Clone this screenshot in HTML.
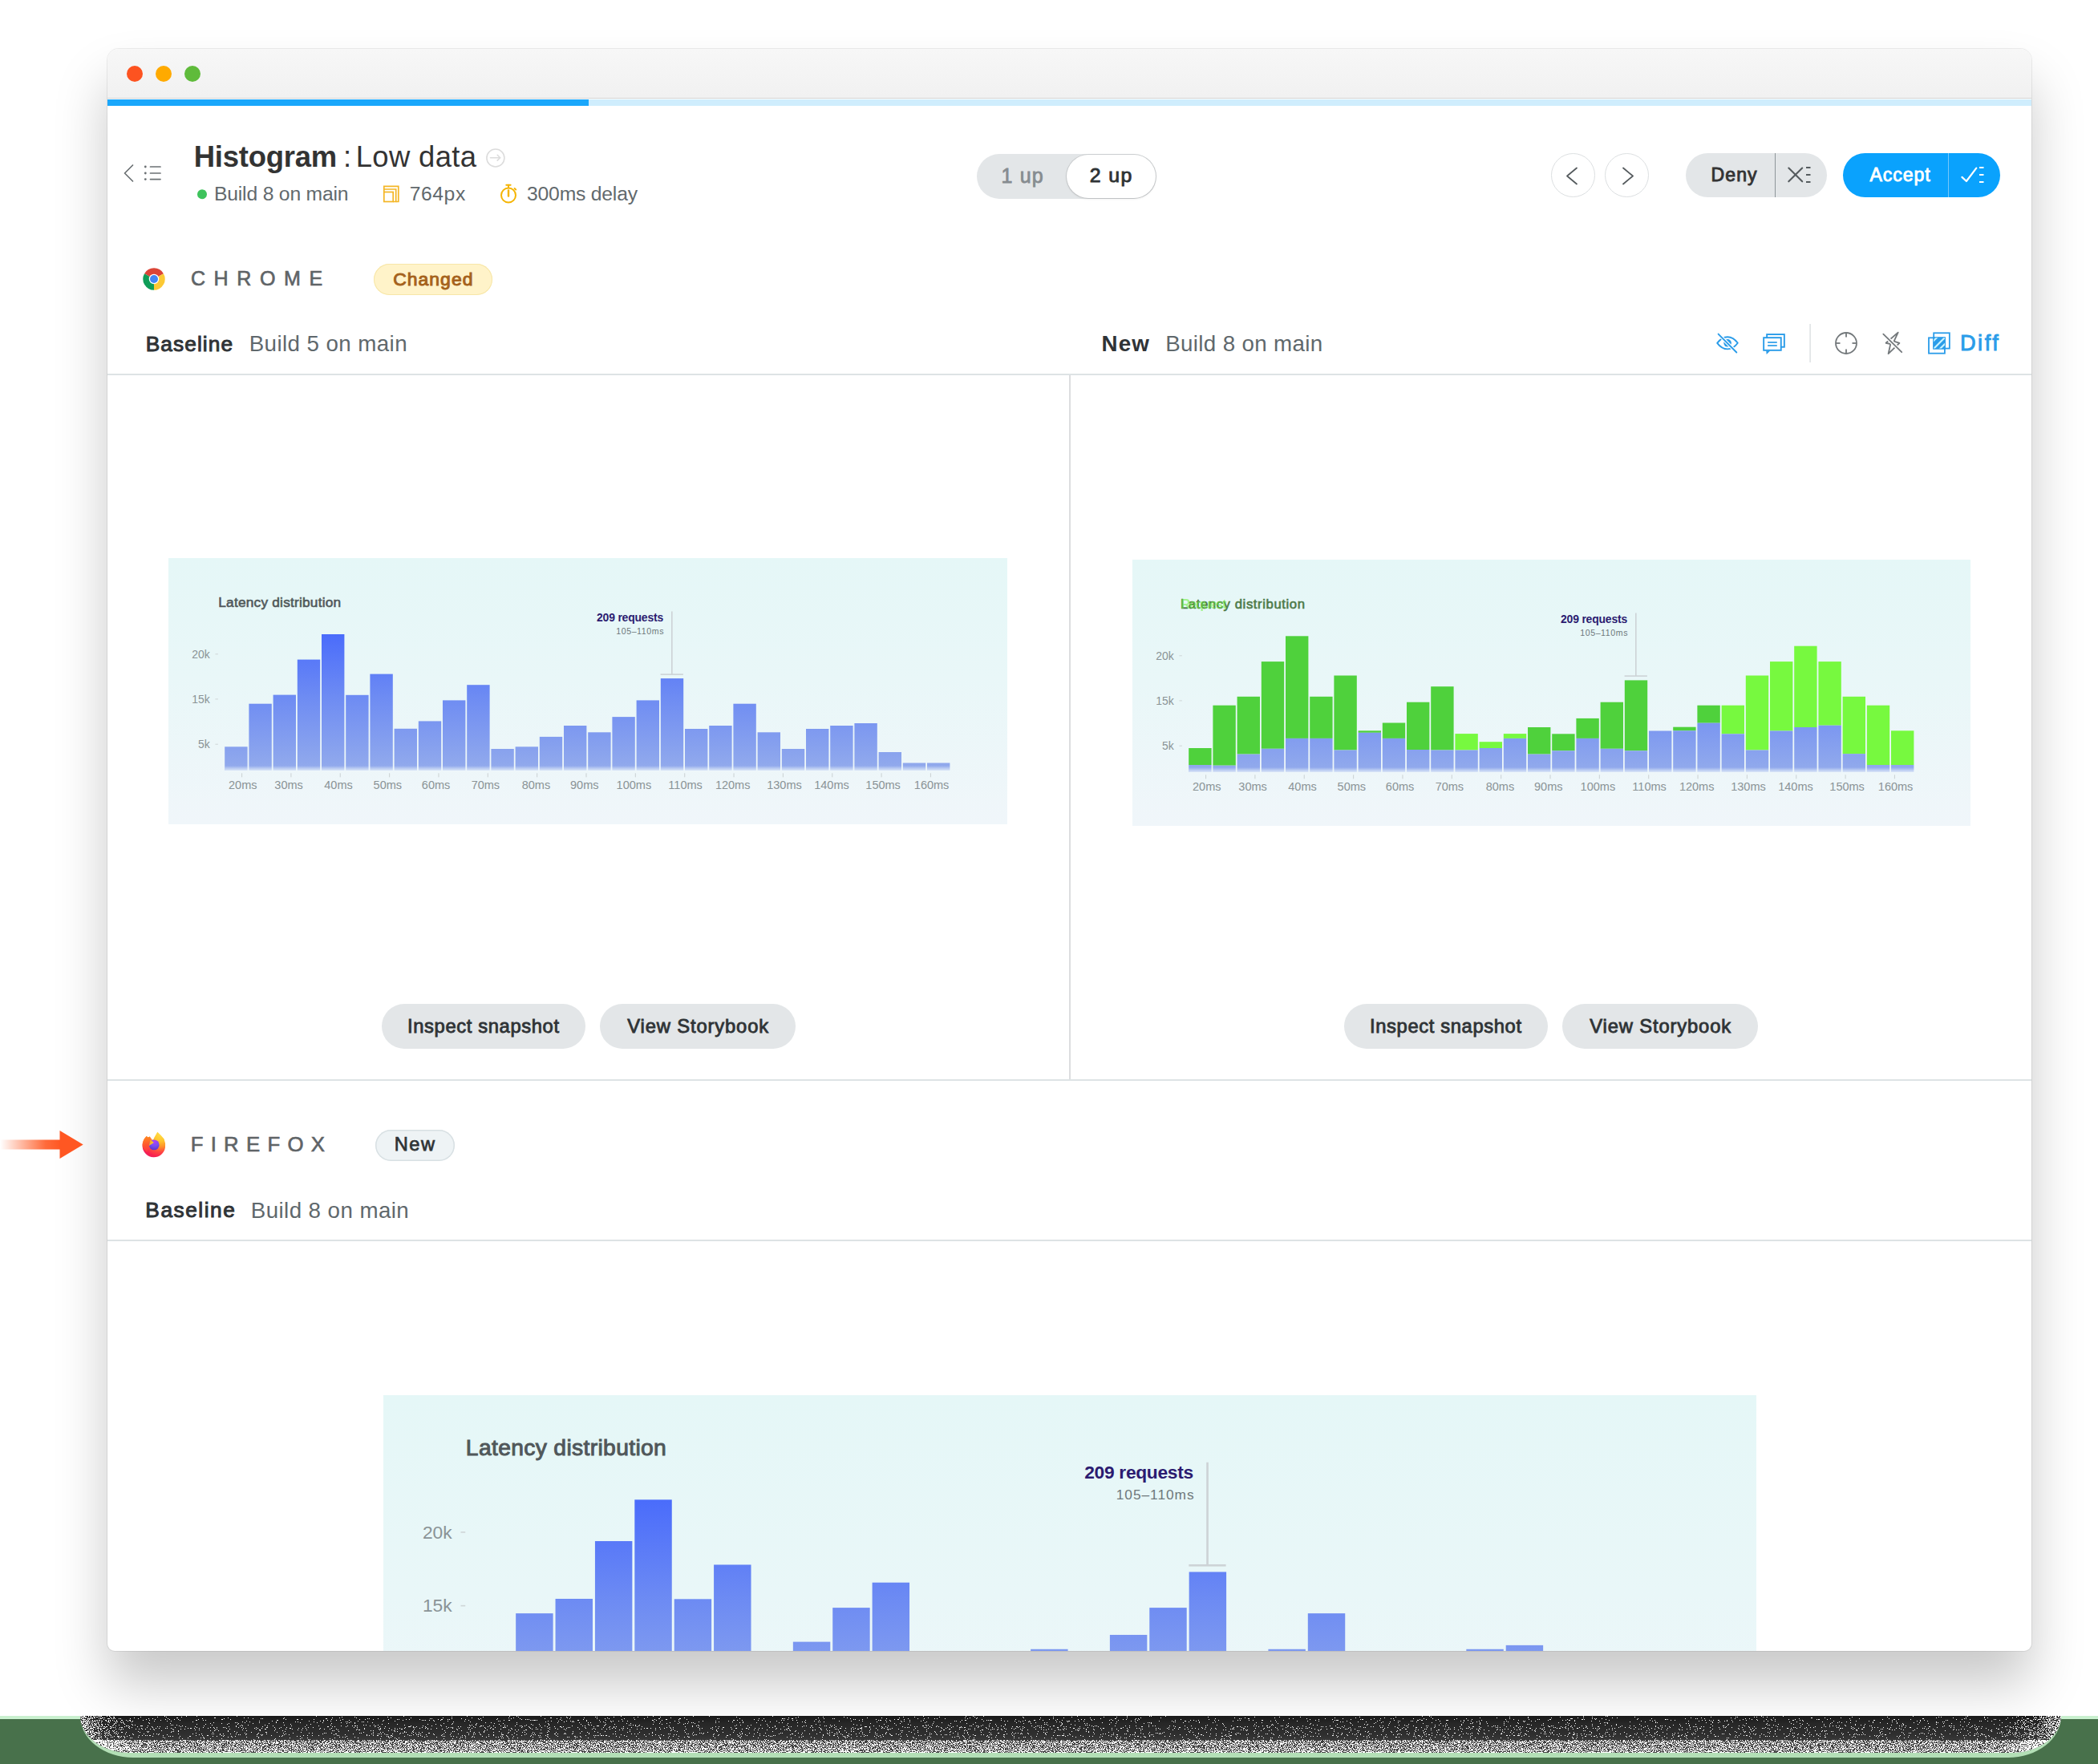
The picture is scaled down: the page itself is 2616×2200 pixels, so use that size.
<!DOCTYPE html>
<html><head><meta charset="utf-8"><title>Histogram : Low data</title>
<style>
*{margin:0;padding:0;box-sizing:border-box}
html,body{width:2616px;height:2200px;overflow:hidden;background:#fff;font-family:"Liberation Sans",sans-serif}
.a{position:absolute}
.t{position:absolute;white-space:nowrap;font-family:"Liberation Sans",sans-serif}
#win{position:absolute;left:134px;top:61px;width:2399px;height:1998px;border-radius:14px 14px 9px 9px;background:#fff;
 box-shadow:0 0 0 1px rgba(0,0,0,.07),0 42px 66px rgba(0,0,0,.217)}
#tb{position:absolute;left:134px;top:61px;width:2399px;height:62px;border-radius:14px 14px 0 0;
 background:linear-gradient(#f7f7f7,#f1f1f1);border-bottom:1px solid #d4d4d4}
.dot{position:absolute;width:20px;height:20px;border-radius:50%;top:82px}
.pill{position:absolute;border-radius:40px}
svg{position:absolute;overflow:visible}
svg text{font-family:"Liberation Sans",sans-serif}
</style></head><body>
<!-- bottom strip -->
<div class="a" style="left:0;top:2140px;width:2616px;height:60px;background:#48714b"></div>
<div class="a" style="left:0;top:2140px;width:2616px;height:4px;background:#c9f0cf"></div>
<div class="a" style="left:100px;top:2140px;width:2470px;height:52px;border-radius:0 0 66px 66px / 0 0 52px 52px;background:#b3dfb6"></div>
<svg style="left:100px;top:2140px" width="2470" height="46" viewBox="0 0 2470 46">
 <defs>
  <clipPath id="bandclip"><path d="M0 0 H2470 A62 46 0 0 1 2408 46 H62 A62 46 0 0 1 0 0 Z"/></clipPath>
  <linearGradient id="bandc" x1="0" y1="0" x2="0" y2="1">
   <stop offset="0" stop-color="#1a1a1a"/><stop offset="0.2" stop-color="#282828"/><stop offset="0.5" stop-color="#303030"/>
   <stop offset="0.66" stop-color="#383838"/><stop offset="0.67" stop-color="#3e3e3e"/><stop offset="1" stop-color="#444"/>
  </linearGradient>
  <linearGradient id="bandp" gradientUnits="userSpaceOnUse" x1="0" y1="0" x2="0" y2="46">
   <stop offset="0" stop-color="#000"/><stop offset="0.05" stop-color="#050505"/><stop offset="0.18" stop-color="#0d0d0d"/>
   <stop offset="0.44" stop-color="#111"/><stop offset="0.57" stop-color="#0d0d0d"/><stop offset="0.655" stop-color="#0a0a0a"/>
   <stop offset="0.665" stop-color="#3c3c3c"/><stop offset="0.95" stop-color="#404040"/><stop offset="1" stop-color="#4a4a4a"/>
  </linearGradient>
  <linearGradient id="bandh" gradientUnits="userSpaceOnUse" x1="0" y1="0" x2="2470" y2="0">
   <stop offset="0" stop-color="#fff" stop-opacity="0.26"/><stop offset="0.012" stop-color="#fff" stop-opacity="0.12"/>
   <stop offset="0.03" stop-color="#fff" stop-opacity="0"/><stop offset="0.97" stop-color="#fff" stop-opacity="0"/>
   <stop offset="0.988" stop-color="#fff" stop-opacity="0.12"/><stop offset="1" stop-color="#fff" stop-opacity="0.26"/>
  </linearGradient>
  <filter id="dith" x="0" y="0" width="100%" height="100%" color-interpolation-filters="sRGB">
   <feTurbulence type="fractalNoise" baseFrequency="0.9" numOctaves="3" seed="7" result="n"/>
   <feColorMatrix in="n" type="matrix" values="1 0 0 0 0  1 0 0 0 0  1 0 0 0 0  0 0 0 0 1" result="nr"/>
   <feComposite in="nr" in2="SourceGraphic" operator="arithmetic" k1="0" k2="-1" k3="1" k4="0.5" result="d"/>
   <feColorMatrix in="d" type="matrix" values="0 0 0 0 1  0 0 0 0 1  0 0 0 0 1  1 0 0 0 0" result="m"/>
   <feComponentTransfer in="m"><feFuncA type="discrete" tableValues="0 1"/></feComponentTransfer>
  </filter>
 </defs>
 <g clip-path="url(#bandclip)">
  <rect x="0" y="0" width="2470" height="46" fill="url(#bandc)"/>
  <g filter="url(#dith)">
   <rect x="0" y="0" width="2470" height="46" fill="url(#bandp)"/>
   <rect x="0" y="0" width="2470" height="46" fill="url(#bandh)"/>
  </g>
 </g>
</svg>
<div class="a" style="left:100px;top:2139px;width:2470px;height:1px;background:#fff"></div>
<!-- window -->
<div id="win"></div>
<div id="tb"></div>
<div class="dot" style="left:158px;background:#fd5320"></div>
<div class="dot" style="left:194px;background:#ffaa00"></div>
<div class="dot" style="left:230px;background:#5fbb3b"></div>
<div class="a" style="left:134px;top:124px;width:600px;height:8px;background:#1aa7fb"></div>
<div class="a" style="left:734px;top:124px;width:1799px;height:8px;background:#cfedfd"></div>

<!-- header icons -->
<svg style="left:0;top:0" width="2616" height="500" viewBox="0 0 2616 500">
 <!-- back + list -->
 <polyline points="165.5,206 155.5,216 165.5,226" fill="none" stroke="#6b7073" stroke-width="1.7" stroke-linecap="round" stroke-linejoin="round"/>
 <g fill="#6b7073"><circle cx="181.3" cy="208" r="1.4"/><circle cx="181.3" cy="216" r="1.4"/><circle cx="181.3" cy="223.6" r="1.4"/></g>
 <g stroke="#6b7073" stroke-width="1.7" stroke-linecap="round"><line x1="187.5" y1="208" x2="200" y2="208"/><line x1="187.5" y1="216" x2="200" y2="216"/><line x1="187.5" y1="223.6" x2="200" y2="223.6"/></g>
 <!-- circle arrow after title -->
 <circle cx="617.9" cy="197" r="11" fill="none" stroke="#dcdcdc" stroke-width="1.6"/>
 <g stroke="#dcdcdc" stroke-width="1.6" fill="none" stroke-linecap="round" stroke-linejoin="round"><line x1="611.5" y1="196.7" x2="623.6" y2="196.7"/><polyline points="620.2,193.3 623.6,196.7 620.2,200.1"/></g>
 <!-- green dot -->
 <circle cx="252" cy="242.3" r="6" fill="#3ec35c"/>
 <!-- frames icon -->
 <g fill="none" stroke="#f4b626" stroke-width="1.7">
  <rect x="478.8" y="239.5" width="11.4" height="12"/>
  <polyline points="478.8,239.5 478.8,236 493.7,236 493.7,251.5 490.2,251.5"/>
  <polyline points="478.8,236 478.8,232.3 496.8,232.3 496.8,251.5 493.7,251.5"/>
 </g>
 <!-- timer icon -->
 <g fill="none" stroke="#f5b400" stroke-width="2" stroke-linecap="round">
  <circle cx="634" cy="243.5" r="9"/>
  <line x1="634" y1="244.5" x2="634" y2="237.5" stroke-width="2.4"/>
  <line x1="631.3" y1="230.8" x2="636.6" y2="230.8"/>
  <line x1="634" y1="230.8" x2="634" y2="234"/>
  <line x1="641.6" y1="235" x2="643.2" y2="236.5"/>
 </g>
</svg>

<!-- toggle 1up/2up -->
<div class="pill" style="left:1218px;top:192px;width:224px;height:56px;border-radius:28px;background:#e3e6e8"></div>
<div class="pill" style="left:1330px;top:193px;width:111px;height:54px;border-radius:27px;background:#fff;box-shadow:0 0 0 1px rgba(0,0,0,.09),0 1px 3px rgba(0,0,0,.10)"></div>

<!-- prev/next -->
<div class="pill" style="left:1934px;top:190.5px;width:55px;height:55px;border-radius:50%;border:1.5px solid #dcdfe1"></div>
<div class="pill" style="left:2001px;top:190.5px;width:55px;height:55px;border-radius:50%;border:1.5px solid #dcdfe1"></div>
<!-- deny / accept -->
<div class="pill" style="left:2102px;top:190.5px;width:176px;height:55px;border-radius:28px;background:#e3e6e8"></div>
<div class="a" style="left:2212.5px;top:190.5px;width:1.5px;height:55px;background:#8f9699"></div>
<div class="pill" style="left:2298px;top:190.5px;width:196px;height:55px;border-radius:28px;background:#0aa2fd"></div>
<div class="a" style="left:2428.5px;top:190.5px;width:1.5px;height:55px;background:#74c8fb"></div>
<svg style="left:0;top:0" width="2616" height="500" viewBox="0 0 2616 500">
 <g fill="none" stroke="#555b5e" stroke-width="1.8" stroke-linecap="round" stroke-linejoin="round">
  <polyline points="1966,209.5 1954,219.5 1966,229.5"/>
  <polyline points="2024,209.5 2036,219.5 2024,229.5"/>
 </g>
 <g fill="none" stroke="#555b5e" stroke-width="1.8" stroke-linecap="round">
  <line x1="2230.3" y1="209.5" x2="2247.2" y2="226.3" stroke-width="2.1"/><line x1="2247.2" y1="209.5" x2="2230.3" y2="226.3" stroke-width="2.1"/>
 </g>
 <g fill="#555b5e"><rect x="2252" y="208" width="5.5" height="2"/><rect x="2252" y="217" width="5.5" height="2"/><rect x="2252" y="226" width="5.5" height="2"/></g>
 <g fill="none" stroke="#fff" stroke-width="1.8" stroke-linecap="round" stroke-linejoin="round"><polyline points="2446.4,220.9 2451.9,226 2464.3,209.6" stroke-width="2.2"/></g>
 <g fill="#fff"><rect x="2468" y="208" width="5.5" height="2"/><rect x="2468" y="217" width="5.5" height="2"/><rect x="2468" y="226" width="5.5" height="2"/></g>
</svg>

<!-- chrome icon -->
<svg style="left:177px;top:333px" width="30" height="30" viewBox="0 0 48 48">
 <path d="M24 24 L4.95 13 A22 22 0 0 1 43.05 13 Z" fill="#db4437"/>
 <path d="M24 24 L43.05 13 A22 22 0 0 1 24 46 Z" fill="#fcc934"/>
 <path d="M24 24 L24 46 A22 22 0 0 1 4.95 13 Z" fill="#0f9d58"/>
 <circle cx="24" cy="24" r="10" fill="#fff"/>
 <circle cx="24" cy="24" r="8" fill="#4285f4"/>
</svg>
<!-- Changed pill -->
<div class="pill" style="left:466px;top:328.5px;width:148px;height:39px;border-radius:20px;background:#fff3c9;box-shadow:inset 0 0 0 1px #f7e6a8"></div>

<!-- toolbar icons -->
<svg style="left:0;top:0" width="2616" height="500" viewBox="0 0 2616 500">
 <!-- eye slash -->
 <path d="M2141.2 427.8 Q2147 420.2 2154.1 420.2 Q2161.2 420.2 2166.8 427.8 Q2161.2 435.4 2154.1 435.4 Q2147 435.4 2141.2 427.8 Z" fill="none" stroke="#2a9ce9" stroke-width="1.9" stroke-linejoin="round"/>
 <circle cx="2154.1" cy="427.8" r="4.8" fill="#2a9ce9"/>
 <line x1="2142.6" y1="416.6" x2="2165.3" y2="439.5" stroke="#fff" stroke-width="4.2"/>
 <line x1="2142.6" y1="416.6" x2="2165.3" y2="439.5" stroke="#2a9ce9" stroke-width="1.9" stroke-linecap="round"/>
 <!-- comments -->
 <g fill="none" stroke="#2a9ce9" stroke-width="1.9">
  <rect x="2203.15" y="417.05" width="21.7" height="15.7"/>
  <rect x="2199.15" y="421.15" width="21.6" height="15.7" fill="#fff"/>
 </g>
 <path d="M2202.2 437.6 L2202.7 442 L2207.2 437.6 Z" fill="#2a9ce9"/>
 <g stroke="#2a9ce9" stroke-width="1.7"><line x1="2204.1" y1="427" x2="2215.8" y2="427"/><line x1="2204.1" y1="431" x2="2215.8" y2="431"/></g>
 <rect x="2256.3" y="404" width="1.6" height="48" fill="#dfe3e5"/>
 <!-- crosshair -->
 <g fill="none" stroke="#73787b" stroke-width="1.8">
  <circle cx="2302" cy="428" r="13"/>
  <line x1="2302" y1="415" x2="2302" y2="420.5"/><line x1="2302" y1="435.5" x2="2302" y2="441"/>
  <line x1="2289" y1="428" x2="2294.5" y2="428"/><line x1="2309.5" y1="428" x2="2315" y2="428"/>
 </g>
 <!-- lightning off -->
 <path d="M2366.7 414.6 L2351.6 427.8 L2357.3 429 L2354.6 441.2 L2368.4 427.8 L2361.6 425.6 Z" fill="none" stroke="#73787b" stroke-width="1.8" stroke-linejoin="round"/>
 <line x1="2348.3" y1="416.6" x2="2371.2" y2="439.2" stroke="#fff" stroke-width="4.5"/>
 <line x1="2348.3" y1="416.6" x2="2371.2" y2="439.2" stroke="#73787b" stroke-width="1.8" stroke-linecap="round"/>
 <!-- diff icon -->
 <defs><clipPath id="ovl"><rect x="2411.2" y="421.3" width="13.7" height="13.3"/></clipPath></defs>
 <g fill="none" stroke="#2a9ce9" stroke-width="1.8">
  <rect x="2411.2" y="415.3" width="19.65" height="19.3"/>
  <rect x="2405" y="421.3" width="19.9" height="19.4"/>
 </g>
 <rect x="2410.3" y="420.4" width="15.5" height="15.1" fill="#2a9ce9"/>
 <g clip-path="url(#ovl)" stroke="#c9f3ff" stroke-width="2.2">
  <line x1="2406" y1="430" x2="2418" y2="418"/>
  <line x1="2408" y1="438" x2="2428" y2="418"/>
  <line x1="2414" y1="440" x2="2430" y2="424"/>
 </g>
</svg>

<!-- separators -->
<div class="a" style="left:134px;top:466px;width:2399px;height:2px;background:#dde3e5"></div>
<div class="a" style="left:1333px;top:468px;width:1.6px;height:879px;background:#dcdddf"></div>
<div class="a" style="left:134px;top:1346px;width:2399px;height:2px;background:#dde3e5"></div>
<div class="a" style="left:134px;top:1546px;width:2399px;height:2px;background:#dde3e5"></div>

<!-- chart boxes -->
<div class="a" style="left:210px;top:696px;width:1046px;height:332px;background:linear-gradient(180deg,#e5f7f7 0%,#e9f7f8 45%,#f0f6fa 100%)"></div>
<div class="a" style="left:1412px;top:698px;width:1045px;height:332px;background:linear-gradient(180deg,#e5f7f7 0%,#e9f7f8 45%,#f0f6fa 100%)"></div>
<svg style="left:210px;top:696px" width="1047" height="340" viewBox="0 0 1047 340"><defs><linearGradient id="bgbase" gradientUnits="userSpaceOnUse" x1="0" y1="95.0" x2="0" y2="265.0"><stop offset="0" stop-color="#4a6cfb"/><stop offset="0.45" stop-color="#6d8bf3"/><stop offset="1" stop-color="#93abec"/></linearGradient><linearGradient id="fadebase" x1="0" y1="0" x2="0" y2="1"><stop offset="0" stop-color="#eef7fa" stop-opacity="0"/><stop offset="1" stop-color="#eef7fa" stop-opacity="0.9"/></linearGradient></defs>
<text x="62.28" y="61.00" font-size="17.28" font-weight="400" fill="#50575a" stroke="#50575a" stroke-width="0.6" textLength="152.85" lengthAdjust="spacing">Latency distribution</text>
<text x="29.31" y="124.60" font-size="13.94" font-weight="400" fill="#8a9396">20k</text>
<rect x="58.4" y="119.3" width="3.5" height="1" fill="#cfd6d8"/>
<text x="29.31" y="180.70" font-size="13.94" font-weight="400" fill="#8a9396">15k</text>
<rect x="58.4" y="175.4" width="3.5" height="1" fill="#cfd6d8"/>
<text x="37.06" y="237.00" font-size="13.94" font-weight="400" fill="#8a9396">5k</text>
<rect x="58.4" y="231.7" width="3.5" height="1" fill="#cfd6d8"/>
<rect x="70.20" y="235.30" width="28.4" height="29.70" fill="url(#bgbase)"/>
<rect x="100.40" y="181.70" width="28.4" height="83.30" fill="url(#bgbase)"/>
<rect x="130.60" y="170.60" width="28.4" height="94.40" fill="url(#bgbase)"/>
<rect x="160.80" y="126.60" width="28.4" height="138.40" fill="url(#bgbase)"/>
<rect x="191.00" y="95.00" width="28.4" height="170.00" fill="url(#bgbase)"/>
<rect x="221.20" y="170.80" width="28.4" height="94.20" fill="url(#bgbase)"/>
<rect x="251.40" y="144.60" width="28.4" height="120.40" fill="url(#bgbase)"/>
<rect x="281.60" y="212.80" width="28.4" height="52.20" fill="url(#bgbase)"/>
<rect x="311.80" y="203.40" width="28.4" height="61.60" fill="url(#bgbase)"/>
<rect x="342.00" y="177.40" width="28.4" height="87.60" fill="url(#bgbase)"/>
<rect x="372.20" y="158.20" width="28.4" height="106.80" fill="url(#bgbase)"/>
<rect x="402.40" y="238.00" width="28.4" height="27.00" fill="url(#bgbase)"/>
<rect x="432.60" y="235.30" width="28.4" height="29.70" fill="url(#bgbase)"/>
<rect x="462.80" y="222.90" width="28.4" height="42.10" fill="url(#bgbase)"/>
<rect x="493.00" y="209.00" width="28.4" height="56.00" fill="url(#bgbase)"/>
<rect x="523.20" y="217.30" width="28.4" height="47.70" fill="url(#bgbase)"/>
<rect x="553.40" y="198.10" width="28.4" height="66.90" fill="url(#bgbase)"/>
<rect x="583.60" y="177.40" width="28.4" height="87.60" fill="url(#bgbase)"/>
<rect x="613.80" y="150.10" width="28.4" height="114.90" fill="url(#bgbase)"/>
<rect x="644.00" y="213.00" width="28.4" height="52.00" fill="url(#bgbase)"/>
<rect x="674.20" y="209.00" width="28.4" height="56.00" fill="url(#bgbase)"/>
<rect x="704.40" y="181.70" width="28.4" height="83.30" fill="url(#bgbase)"/>
<rect x="734.60" y="217.30" width="28.4" height="47.70" fill="url(#bgbase)"/>
<rect x="764.80" y="238.00" width="28.4" height="27.00" fill="url(#bgbase)"/>
<rect x="795.00" y="213.00" width="28.4" height="52.00" fill="url(#bgbase)"/>
<rect x="825.20" y="209.00" width="28.4" height="56.00" fill="url(#bgbase)"/>
<rect x="855.40" y="206.00" width="28.4" height="59.00" fill="url(#bgbase)"/>
<rect x="885.60" y="242.00" width="28.4" height="23.00" fill="url(#bgbase)"/>
<rect x="915.80" y="255.50" width="28.4" height="9.50" fill="url(#bgbase)"/>
<rect x="946.00" y="255.50" width="28.4" height="9.50" fill="url(#bgbase)"/>
<rect x="70.2" y="259.0" width="906.0" height="7" fill="url(#fadebase)"/>
<rect x="91.00" y="268.3" width="1.1" height="5" fill="#cdd4d6"/>
<text x="75.04" y="287.80" font-size="14.52" font-weight="400" fill="#8a9396">20ms</text>
<rect x="152.35" y="268.3" width="1.1" height="5" fill="#cdd4d6"/>
<text x="132.33" y="287.80" font-size="14.52" font-weight="400" fill="#8a9396">30ms</text>
<rect x="213.70" y="268.3" width="1.1" height="5" fill="#cdd4d6"/>
<text x="194.24" y="287.80" font-size="14.52" font-weight="400" fill="#8a9396">40ms</text>
<rect x="275.05" y="268.3" width="1.1" height="5" fill="#cdd4d6"/>
<text x="255.61" y="287.80" font-size="14.52" font-weight="400" fill="#8a9396">50ms</text>
<rect x="336.40" y="268.3" width="1.1" height="5" fill="#cdd4d6"/>
<text x="315.84" y="287.80" font-size="14.52" font-weight="400" fill="#8a9396">60ms</text>
<rect x="397.75" y="268.3" width="1.1" height="5" fill="#cdd4d6"/>
<text x="377.64" y="287.80" font-size="14.52" font-weight="400" fill="#8a9396">70ms</text>
<rect x="459.10" y="268.3" width="1.1" height="5" fill="#cdd4d6"/>
<text x="440.69" y="287.80" font-size="14.52" font-weight="400" fill="#8a9396">80ms</text>
<rect x="520.45" y="268.3" width="1.1" height="5" fill="#cdd4d6"/>
<text x="501.06" y="287.80" font-size="14.52" font-weight="400" fill="#8a9396">90ms</text>
<rect x="581.80" y="268.3" width="1.1" height="5" fill="#cdd4d6"/>
<text x="558.62" y="287.80" font-size="14.52" font-weight="400" fill="#8a9396">100ms</text>
<rect x="643.15" y="268.3" width="1.1" height="5" fill="#cdd4d6"/>
<text x="623.35" y="287.80" font-size="14.52" font-weight="400" fill="#8a9396">110ms</text>
<rect x="704.50" y="268.3" width="1.1" height="5" fill="#cdd4d6"/>
<text x="681.92" y="287.80" font-size="14.52" font-weight="400" fill="#8a9396">120ms</text>
<rect x="765.85" y="268.3" width="1.1" height="5" fill="#cdd4d6"/>
<text x="746.22" y="287.80" font-size="14.52" font-weight="400" fill="#8a9396">130ms</text>
<rect x="827.20" y="268.3" width="1.1" height="5" fill="#cdd4d6"/>
<text x="805.22" y="287.80" font-size="14.52" font-weight="400" fill="#8a9396">140ms</text>
<rect x="888.55" y="268.3" width="1.1" height="5" fill="#cdd4d6"/>
<text x="869.32" y="287.80" font-size="14.52" font-weight="400" fill="#8a9396">150ms</text>
<rect x="949.90" y="268.3" width="1.1" height="5" fill="#cdd4d6"/>
<text x="929.82" y="287.80" font-size="14.52" font-weight="400" fill="#8a9396">160ms</text>
<rect x="627.0" y="66.5" width="1.6" height="78.5" fill="#cdd3d6"/>
<rect x="613.6" y="144.3" width="28.3" height="1.6" fill="#cdd3d6"/>
<text x="534.01" y="78.80" font-size="13.94" font-weight="700" fill="#2b1b70" textLength="83.16" lengthAdjust="spacing">209 requests</text>
<text x="558.19" y="94.70" font-size="10.60" font-weight="400" fill="#6e777b" textLength="59.29" lengthAdjust="spacing">105–110ms</text>
</svg>
<svg style="left:1412px;top:697.5px" width="1047" height="340" viewBox="0 0 1047 340"><defs><linearGradient id="bgdiff" gradientUnits="userSpaceOnUse" x1="0" y1="95.0" x2="0" y2="265.0"><stop offset="0" stop-color="#4a6cfb"/><stop offset="0.45" stop-color="#6d8bf3"/><stop offset="1" stop-color="#93abec"/></linearGradient><linearGradient id="fadediff" x1="0" y1="0" x2="0" y2="1"><stop offset="0" stop-color="#eef7fa" stop-opacity="0"/><stop offset="1" stop-color="#eef7fa" stop-opacity="0.9"/></linearGradient></defs>

<text x="29.31" y="124.60" font-size="13.94" font-weight="400" fill="#8a9396">20k</text>
<rect x="58.4" y="119.3" width="3.5" height="1" fill="#cfd6d8"/>
<text x="29.31" y="180.70" font-size="13.94" font-weight="400" fill="#8a9396">15k</text>
<rect x="58.4" y="175.4" width="3.5" height="1" fill="#cfd6d8"/>
<text x="37.06" y="237.00" font-size="13.94" font-weight="400" fill="#8a9396">5k</text>
<rect x="58.4" y="231.7" width="3.5" height="1" fill="#cfd6d8"/>
<rect x="70.20" y="235.00" width="28.4" height="21.00" fill="#4fd13c"/>
<rect x="70.20" y="256.00" width="28.4" height="9.00" fill="url(#bgdiff)"/>
<rect x="100.40" y="181.70" width="28.4" height="75.00" fill="#4fd13c"/>
<rect x="100.40" y="256.70" width="28.4" height="8.30" fill="url(#bgdiff)"/>
<rect x="130.60" y="170.80" width="28.4" height="71.80" fill="#4fd13c"/>
<rect x="130.60" y="242.60" width="28.4" height="22.40" fill="url(#bgdiff)"/>
<rect x="160.80" y="127.10" width="28.4" height="108.70" fill="#4fd13c"/>
<rect x="160.80" y="235.80" width="28.4" height="29.20" fill="url(#bgdiff)"/>
<rect x="191.00" y="95.30" width="28.4" height="127.60" fill="#4fd13c"/>
<rect x="191.00" y="222.90" width="28.4" height="42.10" fill="url(#bgdiff)"/>
<rect x="221.20" y="170.80" width="28.4" height="52.10" fill="#4fd13c"/>
<rect x="221.20" y="222.90" width="28.4" height="42.10" fill="url(#bgdiff)"/>
<rect x="251.40" y="144.50" width="28.4" height="93.00" fill="#4fd13c"/>
<rect x="251.40" y="237.50" width="28.4" height="27.50" fill="url(#bgdiff)"/>
<rect x="281.60" y="213.30" width="28.4" height="2.50" fill="#4fd13c"/>
<rect x="281.60" y="215.80" width="28.4" height="49.20" fill="url(#bgdiff)"/>
<rect x="311.80" y="203.50" width="28.4" height="19.40" fill="#4fd13c"/>
<rect x="311.80" y="222.90" width="28.4" height="42.10" fill="url(#bgdiff)"/>
<rect x="342.00" y="177.70" width="28.4" height="59.30" fill="#4fd13c"/>
<rect x="342.00" y="237.00" width="28.4" height="28.00" fill="url(#bgdiff)"/>
<rect x="372.20" y="158.20" width="28.4" height="79.30" fill="#4fd13c"/>
<rect x="372.20" y="237.50" width="28.4" height="27.50" fill="url(#bgdiff)"/>
<rect x="402.40" y="217.10" width="28.4" height="20.40" fill="#77f93f"/>
<rect x="402.40" y="237.50" width="28.4" height="27.50" fill="url(#bgdiff)"/>
<rect x="432.60" y="227.20" width="28.4" height="7.80" fill="#77f93f"/>
<rect x="432.60" y="235.00" width="28.4" height="30.00" fill="url(#bgdiff)"/>
<rect x="462.80" y="217.10" width="28.4" height="5.80" fill="#77f93f"/>
<rect x="462.80" y="222.90" width="28.4" height="42.10" fill="url(#bgdiff)"/>
<rect x="493.00" y="209.00" width="28.4" height="33.60" fill="#4fd13c"/>
<rect x="493.00" y="242.60" width="28.4" height="22.40" fill="url(#bgdiff)"/>
<rect x="523.20" y="217.30" width="28.4" height="21.00" fill="#4fd13c"/>
<rect x="523.20" y="238.30" width="28.4" height="26.70" fill="url(#bgdiff)"/>
<rect x="553.40" y="197.90" width="28.4" height="25.00" fill="#4fd13c"/>
<rect x="553.40" y="222.90" width="28.4" height="42.10" fill="url(#bgdiff)"/>
<rect x="583.60" y="177.70" width="28.4" height="58.10" fill="#4fd13c"/>
<rect x="583.60" y="235.80" width="28.4" height="29.20" fill="url(#bgdiff)"/>
<rect x="613.80" y="150.40" width="28.4" height="87.90" fill="#4fd13c"/>
<rect x="613.80" y="238.30" width="28.4" height="26.70" fill="url(#bgdiff)"/>
<rect x="644.00" y="213.50" width="28.4" height="51.50" fill="url(#bgdiff)"/>
<rect x="674.20" y="208.70" width="28.4" height="4.60" fill="#4fd13c"/>
<rect x="674.20" y="213.30" width="28.4" height="51.70" fill="url(#bgdiff)"/>
<rect x="704.40" y="181.70" width="28.4" height="22.00" fill="#4fd13c"/>
<rect x="704.40" y="203.70" width="28.4" height="61.30" fill="url(#bgdiff)"/>
<rect x="734.60" y="181.70" width="28.4" height="35.60" fill="#77f93f"/>
<rect x="734.60" y="217.30" width="28.4" height="47.70" fill="url(#bgdiff)"/>
<rect x="764.80" y="144.50" width="28.4" height="93.00" fill="#77f93f"/>
<rect x="764.80" y="237.50" width="28.4" height="27.50" fill="url(#bgdiff)"/>
<rect x="795.00" y="127.10" width="28.4" height="86.40" fill="#77f93f"/>
<rect x="795.00" y="213.50" width="28.4" height="51.50" fill="url(#bgdiff)"/>
<rect x="825.20" y="107.70" width="28.4" height="101.30" fill="#77f93f"/>
<rect x="825.20" y="209.00" width="28.4" height="56.00" fill="url(#bgdiff)"/>
<rect x="855.40" y="127.10" width="28.4" height="79.60" fill="#77f93f"/>
<rect x="855.40" y="206.70" width="28.4" height="58.30" fill="url(#bgdiff)"/>
<rect x="885.60" y="170.80" width="28.4" height="71.30" fill="#77f93f"/>
<rect x="885.60" y="242.10" width="28.4" height="22.90" fill="url(#bgdiff)"/>
<rect x="915.80" y="181.70" width="28.4" height="74.30" fill="#77f93f"/>
<rect x="915.80" y="256.00" width="28.4" height="9.00" fill="url(#bgdiff)"/>
<rect x="946.00" y="213.30" width="28.4" height="42.70" fill="#77f93f"/>
<rect x="946.00" y="256.00" width="28.4" height="9.00" fill="url(#bgdiff)"/>
<rect x="70.2" y="259.0" width="906.0" height="7" fill="url(#fadediff)"/>
<rect x="91.00" y="268.3" width="1.1" height="5" fill="#cdd4d6"/>
<text x="75.04" y="287.80" font-size="14.52" font-weight="400" fill="#8a9396">20ms</text>
<rect x="152.35" y="268.3" width="1.1" height="5" fill="#cdd4d6"/>
<text x="132.33" y="287.80" font-size="14.52" font-weight="400" fill="#8a9396">30ms</text>
<rect x="213.70" y="268.3" width="1.1" height="5" fill="#cdd4d6"/>
<text x="194.24" y="287.80" font-size="14.52" font-weight="400" fill="#8a9396">40ms</text>
<rect x="275.05" y="268.3" width="1.1" height="5" fill="#cdd4d6"/>
<text x="255.61" y="287.80" font-size="14.52" font-weight="400" fill="#8a9396">50ms</text>
<rect x="336.40" y="268.3" width="1.1" height="5" fill="#cdd4d6"/>
<text x="315.84" y="287.80" font-size="14.52" font-weight="400" fill="#8a9396">60ms</text>
<rect x="397.75" y="268.3" width="1.1" height="5" fill="#cdd4d6"/>
<text x="377.64" y="287.80" font-size="14.52" font-weight="400" fill="#8a9396">70ms</text>
<rect x="459.10" y="268.3" width="1.1" height="5" fill="#cdd4d6"/>
<text x="440.69" y="287.80" font-size="14.52" font-weight="400" fill="#8a9396">80ms</text>
<rect x="520.45" y="268.3" width="1.1" height="5" fill="#cdd4d6"/>
<text x="501.06" y="287.80" font-size="14.52" font-weight="400" fill="#8a9396">90ms</text>
<rect x="581.80" y="268.3" width="1.1" height="5" fill="#cdd4d6"/>
<text x="558.62" y="287.80" font-size="14.52" font-weight="400" fill="#8a9396">100ms</text>
<rect x="643.15" y="268.3" width="1.1" height="5" fill="#cdd4d6"/>
<text x="623.35" y="287.80" font-size="14.52" font-weight="400" fill="#8a9396">110ms</text>
<rect x="704.50" y="268.3" width="1.1" height="5" fill="#cdd4d6"/>
<text x="681.92" y="287.80" font-size="14.52" font-weight="400" fill="#8a9396">120ms</text>
<rect x="765.85" y="268.3" width="1.1" height="5" fill="#cdd4d6"/>
<text x="746.22" y="287.80" font-size="14.52" font-weight="400" fill="#8a9396">130ms</text>
<rect x="827.20" y="268.3" width="1.1" height="5" fill="#cdd4d6"/>
<text x="805.22" y="287.80" font-size="14.52" font-weight="400" fill="#8a9396">140ms</text>
<rect x="888.55" y="268.3" width="1.1" height="5" fill="#cdd4d6"/>
<text x="869.32" y="287.80" font-size="14.52" font-weight="400" fill="#8a9396">150ms</text>
<rect x="949.90" y="268.3" width="1.1" height="5" fill="#cdd4d6"/>
<text x="929.82" y="287.80" font-size="14.52" font-weight="400" fill="#8a9396">160ms</text>
<rect x="627.0" y="66.5" width="1.6" height="78.5" fill="#cdd3d6"/>
<rect x="613.6" y="144.3" width="28.3" height="1.6" fill="#cdd3d6"/>
<text x="534.01" y="78.80" font-size="13.94" font-weight="700" fill="#2b1b70" textLength="83.16" lengthAdjust="spacing">209 requests</text>
<text x="558.19" y="94.70" font-size="10.60" font-weight="400" fill="#6e777b" textLength="59.29" lengthAdjust="spacing">105–110ms</text><text x="59.93" y="60.90" font-size="16.70" font-weight="400" fill="#4e7a48" stroke="#4e7a48" stroke-width="0.6" textLength="155.06" lengthAdjust="spacing">Latency distribution</text><text opacity="0.55" x="60.18" y="60.90" font-size="16.70" font-weight="700" fill="#6ef03a" textLength="57.33" lengthAdjust="spacing">Request</text>
</svg>

<!-- buttons -->
<div class="pill" style="left:476px;top:1252px;width:254px;height:56px;border-radius:28px;background:#e3e6e8"></div>
<div class="pill" style="left:748px;top:1252px;width:244px;height:56px;border-radius:28px;background:#e3e6e8"></div>
<div class="pill" style="left:1676px;top:1252px;width:254px;height:56px;border-radius:28px;background:#e3e6e8"></div>
<div class="pill" style="left:1948px;top:1252px;width:244px;height:56px;border-radius:28px;background:#e3e6e8"></div>

<!-- firefox -->
<svg style="left:0;top:1405px" width="110" height="45" viewBox="0 1405 110 45">
 <defs><linearGradient id="arr" x1="0" y1="0" x2="1" y2="0"><stop offset="0" stop-color="#ff5a24" stop-opacity="0"/><stop offset="0.75" stop-color="#ff5a24" stop-opacity="0.9"/><stop offset="1" stop-color="#ff5722"/></linearGradient></defs>
 <rect x="0" y="1421.5" width="76" height="12" fill="url(#arr)"/>
 <path d="M74.5 1410 L103.7 1427.5 L74.5 1445 Z" fill="#ff5722"/>
</svg>
<svg style="left:172px;top:1406px" width="40" height="42" viewBox="172 1406 40 42">
 <defs>
  <radialGradient id="ffb" cx="0.78" cy="0.05" r="1.05"><stop offset="0" stop-color="#ffe04a"/><stop offset="0.3" stop-color="#ffc52e"/><stop offset="0.52" stop-color="#ff8f2a"/><stop offset="0.7" stop-color="#ff4840"/><stop offset="0.9" stop-color="#f8204f"/><stop offset="1" stop-color="#ee2060"/></radialGradient>
  <linearGradient id="ffl" x1="0" y1="0" x2="0.3" y2="1"><stop offset="0" stop-color="#ff9a1a"/><stop offset="0.6" stop-color="#ff5a2a"/><stop offset="1" stop-color="#ff3a45"/></linearGradient>
  <radialGradient id="ffp" cx="0.55" cy="0.15" r="0.9"><stop offset="0" stop-color="#b13ff5"/><stop offset="0.5" stop-color="#7a4ef0"/><stop offset="1" stop-color="#5630c8"/></radialGradient>
  <linearGradient id="ffh" x1="0" y1="0" x2="1" y2="0.4"><stop offset="0" stop-color="#f29a10"/><stop offset="1" stop-color="#ffcc2e"/></linearGradient>
 </defs>
 <path d="M186.8 1417.5 L188.2 1421.4 L191.2 1421.2 L192.2 1419 L196.3 1411.8 L200.5 1415.8 L204.6 1420.5 Q206.8 1426 206 1431 A14.3 14.3 0 0 1 177.6 1430 Q177.3 1423.5 181.6 1418.3 L182.6 1417 L184.6 1418.4 Z" fill="url(#ffb)"/>
 <path d="M182.6 1417 L184.6 1418.4 L186.8 1417.5 L189.5 1421 L186 1429 L183.5 1437 Q177.6 1433 177.6 1428 Q177.4 1422 182.6 1417 Z" fill="url(#ffl)" opacity="0.85"/>
 <circle cx="192.2" cy="1427.9" r="6.4" fill="url(#ffp)"/>
 <path d="M187.4 1421.2 L191.8 1425.1 L185.8 1428.9 Z" fill="url(#ffh)"/>
</svg>
<div class="pill" style="left:468px;top:1408.5px;width:99px;height:39px;border-radius:20px;background:#eef3f5;box-shadow:inset 0 0 0 1.5px #d8e0e3"></div>

<!-- firefox chart (clipped by window bottom) -->
<div class="a" style="left:134px;top:1548px;width:2399px;height:511px;overflow:hidden;border-radius:0 0 9px 9px">
 <div class="a" style="left:344.3px;top:192px;width:1712px;height:543px;background:linear-gradient(180deg,#e5f7f7 0%,#e9f7f8 45%,#f0f6fa 100%)"></div>
 <svg style="left:344.5px;top:166.6px" width="1712" height="556" viewBox="0 0 1047 340"><defs><linearGradient id="bgff" gradientUnits="userSpaceOnUse" x1="0" y1="95.0" x2="0" y2="265.0"><stop offset="0" stop-color="#4a6cfb"/><stop offset="0.45" stop-color="#6d8bf3"/><stop offset="1" stop-color="#93abec"/></linearGradient><linearGradient id="fadeff" x1="0" y1="0" x2="0" y2="1"><stop offset="0" stop-color="#eef7fa" stop-opacity="0"/><stop offset="1" stop-color="#eef7fa" stop-opacity="0.9"/></linearGradient></defs>
<text x="62.28" y="61.00" font-size="17.28" font-weight="400" fill="#50575a" stroke="#50575a" stroke-width="0.6" textLength="152.85" lengthAdjust="spacing">Latency distribution</text>
<text x="29.31" y="124.60" font-size="13.94" font-weight="400" fill="#8a9396">20k</text>
<rect x="58.4" y="119.3" width="3.5" height="1" fill="#cfd6d8"/>
<text x="29.31" y="180.70" font-size="13.94" font-weight="400" fill="#8a9396">15k</text>
<rect x="58.4" y="175.4" width="3.5" height="1" fill="#cfd6d8"/>
<text x="37.06" y="237.00" font-size="13.94" font-weight="400" fill="#8a9396">5k</text>
<rect x="58.4" y="231.7" width="3.5" height="1" fill="#cfd6d8"/>
<rect x="70.20" y="235.30" width="28.4" height="29.70" fill="url(#bgff)"/>
<rect x="100.40" y="181.70" width="28.4" height="83.30" fill="url(#bgff)"/>
<rect x="130.60" y="170.60" width="28.4" height="94.40" fill="url(#bgff)"/>
<rect x="160.80" y="126.60" width="28.4" height="138.40" fill="url(#bgff)"/>
<rect x="191.00" y="95.00" width="28.4" height="170.00" fill="url(#bgff)"/>
<rect x="221.20" y="170.80" width="28.4" height="94.20" fill="url(#bgff)"/>
<rect x="251.40" y="144.60" width="28.4" height="120.40" fill="url(#bgff)"/>
<rect x="281.60" y="212.80" width="28.4" height="52.20" fill="url(#bgff)"/>
<rect x="311.80" y="203.40" width="28.4" height="61.60" fill="url(#bgff)"/>
<rect x="342.00" y="177.40" width="28.4" height="87.60" fill="url(#bgff)"/>
<rect x="372.20" y="158.20" width="28.4" height="106.80" fill="url(#bgff)"/>
<rect x="402.40" y="238.00" width="28.4" height="27.00" fill="url(#bgff)"/>
<rect x="432.60" y="235.30" width="28.4" height="29.70" fill="url(#bgff)"/>
<rect x="462.80" y="222.90" width="28.4" height="42.10" fill="url(#bgff)"/>
<rect x="493.00" y="209.00" width="28.4" height="56.00" fill="url(#bgff)"/>
<rect x="523.20" y="217.30" width="28.4" height="47.70" fill="url(#bgff)"/>
<rect x="553.40" y="198.10" width="28.4" height="66.90" fill="url(#bgff)"/>
<rect x="583.60" y="177.40" width="28.4" height="87.60" fill="url(#bgff)"/>
<rect x="613.80" y="150.10" width="28.4" height="114.90" fill="url(#bgff)"/>
<rect x="644.00" y="213.00" width="28.4" height="52.00" fill="url(#bgff)"/>
<rect x="674.20" y="209.00" width="28.4" height="56.00" fill="url(#bgff)"/>
<rect x="704.40" y="181.70" width="28.4" height="83.30" fill="url(#bgff)"/>
<rect x="734.60" y="217.30" width="28.4" height="47.70" fill="url(#bgff)"/>
<rect x="764.80" y="238.00" width="28.4" height="27.00" fill="url(#bgff)"/>
<rect x="795.00" y="213.00" width="28.4" height="52.00" fill="url(#bgff)"/>
<rect x="825.20" y="209.00" width="28.4" height="56.00" fill="url(#bgff)"/>
<rect x="855.40" y="206.00" width="28.4" height="59.00" fill="url(#bgff)"/>
<rect x="885.60" y="242.00" width="28.4" height="23.00" fill="url(#bgff)"/>
<rect x="915.80" y="255.50" width="28.4" height="9.50" fill="url(#bgff)"/>
<rect x="946.00" y="255.50" width="28.4" height="9.50" fill="url(#bgff)"/>
<rect x="70.2" y="259.0" width="906.0" height="7" fill="url(#fadeff)"/>
<rect x="91.00" y="268.3" width="1.1" height="5" fill="#cdd4d6"/>
<text x="75.04" y="287.80" font-size="14.52" font-weight="400" fill="#8a9396">20ms</text>
<rect x="152.35" y="268.3" width="1.1" height="5" fill="#cdd4d6"/>
<text x="132.33" y="287.80" font-size="14.52" font-weight="400" fill="#8a9396">30ms</text>
<rect x="213.70" y="268.3" width="1.1" height="5" fill="#cdd4d6"/>
<text x="194.24" y="287.80" font-size="14.52" font-weight="400" fill="#8a9396">40ms</text>
<rect x="275.05" y="268.3" width="1.1" height="5" fill="#cdd4d6"/>
<text x="255.61" y="287.80" font-size="14.52" font-weight="400" fill="#8a9396">50ms</text>
<rect x="336.40" y="268.3" width="1.1" height="5" fill="#cdd4d6"/>
<text x="315.84" y="287.80" font-size="14.52" font-weight="400" fill="#8a9396">60ms</text>
<rect x="397.75" y="268.3" width="1.1" height="5" fill="#cdd4d6"/>
<text x="377.64" y="287.80" font-size="14.52" font-weight="400" fill="#8a9396">70ms</text>
<rect x="459.10" y="268.3" width="1.1" height="5" fill="#cdd4d6"/>
<text x="440.69" y="287.80" font-size="14.52" font-weight="400" fill="#8a9396">80ms</text>
<rect x="520.45" y="268.3" width="1.1" height="5" fill="#cdd4d6"/>
<text x="501.06" y="287.80" font-size="14.52" font-weight="400" fill="#8a9396">90ms</text>
<rect x="581.80" y="268.3" width="1.1" height="5" fill="#cdd4d6"/>
<text x="558.62" y="287.80" font-size="14.52" font-weight="400" fill="#8a9396">100ms</text>
<rect x="643.15" y="268.3" width="1.1" height="5" fill="#cdd4d6"/>
<text x="623.35" y="287.80" font-size="14.52" font-weight="400" fill="#8a9396">110ms</text>
<rect x="704.50" y="268.3" width="1.1" height="5" fill="#cdd4d6"/>
<text x="681.92" y="287.80" font-size="14.52" font-weight="400" fill="#8a9396">120ms</text>
<rect x="765.85" y="268.3" width="1.1" height="5" fill="#cdd4d6"/>
<text x="746.22" y="287.80" font-size="14.52" font-weight="400" fill="#8a9396">130ms</text>
<rect x="827.20" y="268.3" width="1.1" height="5" fill="#cdd4d6"/>
<text x="805.22" y="287.80" font-size="14.52" font-weight="400" fill="#8a9396">140ms</text>
<rect x="888.55" y="268.3" width="1.1" height="5" fill="#cdd4d6"/>
<text x="869.32" y="287.80" font-size="14.52" font-weight="400" fill="#8a9396">150ms</text>
<rect x="949.90" y="268.3" width="1.1" height="5" fill="#cdd4d6"/>
<text x="929.82" y="287.80" font-size="14.52" font-weight="400" fill="#8a9396">160ms</text>
<rect x="627.0" y="66.5" width="1.6" height="78.5" fill="#cdd3d6"/>
<rect x="613.6" y="144.3" width="28.3" height="1.6" fill="#cdd3d6"/>
<text x="534.01" y="78.80" font-size="13.94" font-weight="700" fill="#2b1b70" textLength="83.16" lengthAdjust="spacing">209 requests</text>
<text x="558.19" y="94.70" font-size="10.60" font-weight="400" fill="#6e777b" textLength="59.29" lengthAdjust="spacing">105–110ms</text>
 </svg>
</div>

<!-- text -->
<span class="t" style="left:241.66px;top:177.74px;font-size:36.46px;line-height:36.46px;font-weight:700;color:#333333;letter-spacing:-0.209px;">Histogram</span>
<span class="t" style="left:427.98px;top:177.74px;font-size:36.46px;line-height:36.46px;font-weight:400;color:#333333;letter-spacing:0.000px;">:</span>
<span class="t" style="left:443.71px;top:177.74px;font-size:36.46px;line-height:36.46px;font-weight:400;color:#333333;letter-spacing:0.336px;">Low data</span>
<span class="t" style="left:266.98px;top:229.90px;font-size:24.69px;line-height:24.69px;font-weight:400;color:#62696d;letter-spacing:-0.183px;">Build 8 on main</span>
<span class="t" style="left:510.74px;top:229.90px;font-size:24.69px;line-height:24.69px;font-weight:400;color:#62696d;letter-spacing:0.562px;">764px</span>
<span class="t" style="left:657.06px;top:229.90px;font-size:24.69px;line-height:24.69px;font-weight:400;color:#62696d;letter-spacing:-0.201px;">300ms delay</span>
<span class="t" style="left:1248.50px;top:207.25px;font-size:24.98px;line-height:24.98px;font-weight:400;color:#868c90;letter-spacing:1.178px;-webkit-text-stroke:0.8px #868c90;">1 up</span>
<span class="t" style="left:1358.71px;top:207.33px;font-size:24.84px;line-height:24.84px;font-weight:400;color:#2e3234;letter-spacing:1.418px;-webkit-text-stroke:0.9px #2e3234;">2 up</span>
<span class="t" style="left:2133.56px;top:207.10px;font-size:23.09px;line-height:23.09px;font-weight:400;color:#333333;letter-spacing:1.046px;-webkit-text-stroke:0.9px #333333;">Deny</span>
<span class="t" style="left:2331.40px;top:207.10px;font-size:23.09px;line-height:23.09px;font-weight:400;color:#ffffff;letter-spacing:0.942px;-webkit-text-stroke:0.9px #ffffff;">Accept</span>
<span class="t" style="left:237.95px;top:335.07px;font-size:25.05px;line-height:25.05px;font-weight:400;color:#5f6467;letter-spacing:10.573px;-webkit-text-stroke:0.65px #5f6467;">CHROME</span>
<span class="t" style="left:490.13px;top:336.67px;font-size:22.95px;line-height:22.95px;font-weight:400;color:#a5621c;letter-spacing:1.032px;-webkit-text-stroke:1.0px #a5621c;">Changed</span>
<span class="t" style="left:181.74px;top:415.55px;font-size:26.29px;line-height:26.29px;font-weight:400;color:#2f3336;letter-spacing:1.067px;-webkit-text-stroke:1.0px #2f3336;">Baseline</span>
<span class="t" style="left:310.73px;top:414.82px;font-size:27.74px;line-height:27.74px;font-weight:400;color:#5f686c;letter-spacing:0.404px;">Build 5 on main</span>
<span class="t" style="left:1373.54px;top:415.32px;font-size:27.74px;line-height:27.74px;font-weight:700;color:#2f3336;letter-spacing:1.133px;">New</span>
<span class="t" style="left:1453.13px;top:415.32px;font-size:27.74px;line-height:27.74px;font-weight:400;color:#5f686c;letter-spacing:0.354px;">Build 8 on main</span>
<span class="t" style="left:2443.92px;top:413.96px;font-size:27.16px;line-height:27.16px;font-weight:400;color:#2a9ce9;letter-spacing:2.583px;-webkit-text-stroke:0.9px #2a9ce9;">Diff</span>
<span class="t" style="left:508.04px;top:1268.47px;font-size:23.75px;line-height:23.75px;font-weight:400;color:#2f3336;letter-spacing:0.630px;-webkit-text-stroke:0.85px #2f3336;">Inspect snapshot</span>
<span class="t" style="left:782.31px;top:1268.47px;font-size:23.75px;line-height:23.75px;font-weight:400;color:#2f3336;letter-spacing:0.867px;-webkit-text-stroke:0.85px #2f3336;">View Storybook</span>
<span class="t" style="left:1708.04px;top:1268.47px;font-size:23.75px;line-height:23.75px;font-weight:400;color:#2f3336;letter-spacing:0.630px;-webkit-text-stroke:0.85px #2f3336;">Inspect snapshot</span>
<span class="t" style="left:1982.31px;top:1268.47px;font-size:23.75px;line-height:23.75px;font-weight:400;color:#2f3336;letter-spacing:0.867px;-webkit-text-stroke:0.85px #2f3336;">View Storybook</span>
<span class="t" style="left:237.71px;top:1414.65px;font-size:25.78px;line-height:25.78px;font-weight:400;color:#5f6467;letter-spacing:9.262px;-webkit-text-stroke:0.65px #5f6467;">FIREFOX</span>
<span class="t" style="left:491.74px;top:1416.45px;font-size:23.60px;line-height:23.60px;font-weight:400;color:#2f3336;letter-spacing:1.517px;-webkit-text-stroke:0.75px #2f3336;">New</span>
<span class="t" style="left:181.34px;top:1496.35px;font-size:26.29px;line-height:26.29px;font-weight:400;color:#2f3336;letter-spacing:1.524px;-webkit-text-stroke:1.0px #2f3336;">Baseline</span>
<span class="t" style="left:312.73px;top:1495.62px;font-size:27.74px;line-height:27.74px;font-weight:400;color:#5f686c;letter-spacing:0.418px;">Build 8 on main</span>
</body></html>
